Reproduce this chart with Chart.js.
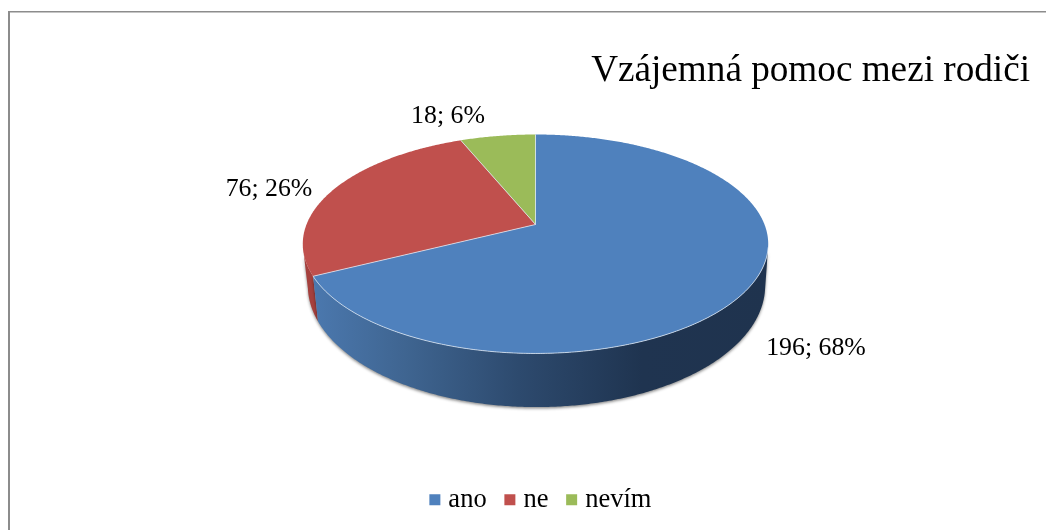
<!DOCTYPE html>
<html>
<head>
<meta charset="utf-8">
<style>html,body{margin:0;padding:0;background:#fff}canvas{display:block}</style>
<script src="https://cdn.jsdelivr.net/npm/chart.js@4/dist/chart.umd.min.js"></script>
</head>
<body>
<div style="width:1046px;height:530px"><canvas id="c" width="1046" height="530"></canvas></div>
<script>
const categories = ['ano', 'ne', 'nevím'];
const values = [196, 76, 18];
const colors = ['#4f81bd', '#c0504d', '#9bbb59'];
const chartTitle = 'Vzájemná pomoc mezi rodiči';
const FONT = '"Liberation Serif", "Times New Roman", serif';

// perspective projection of the pie's top and bottom discs
const topDisc = {cx: 535.5, cy: 224.5, rx: 229, b: 106, c: -0.178};
const botDisc = {cx: 536.5, cy: 264, rx: 225, b: 117.6, c: -0.178};
const project = (d, a) => {
  const u = Math.cos(a), v = Math.sin(a), w = 1 + d.c * v;
  return [d.cx + d.rx * u / w, d.cy + d.b * v / w];
};
const labelAnchors = [[816, 348], [269, 189], [448, 116]];

function wallFill(ctx, i) {
  if (i === 0) {
    const g = ctx.createLinearGradient(313, 0, 770, 0);
    g.addColorStop(0, '#4b78ae');
    g.addColorStop(0.2, '#3f6591');
    g.addColorStop(0.45, '#2d4a6e');
    g.addColorStop(0.72, '#1f3450');
    g.addColorStop(1, '#1f334e');
    return g;
  }
  return i === 1 ? '#a5403d' : '#7f9a45';
}

const pie3d = {
  id: 'pie3d',
  beforeDraw(chart) {
    const ctx = chart.ctx;
    ctx.save();
    ctx.fillStyle = '#fff';
    ctx.fillRect(0, 0, chart.width, chart.height);
    ctx.fillStyle = '#8c8c8c';
    ctx.fillRect(8, 11, 1038, 1.5);
    ctx.fillRect(8, 11, 2, 519);
    ctx.restore();
  },
  beforeDatasetsDraw(chart) {
    const ctx = chart.ctx;
    const arcs = chart.getDatasetMeta(0).data;
    const STEP = Math.PI / 180 / 2;
    const sample = (s, e) => {
      const out = [];
      for (let a = s; a < e; a += STEP) out.push(a);
      out.push(e);
      return out;
    };
    ctx.save();
    // side walls, back to front
    [2, 1, 0].forEach(i => {
      const arc = arcs[i];
      const angles = sample(arc.startAngle, arc.endAngle).filter(a => Math.sin(a) > 0.2);
      if (!angles.length) return;
      ctx.save();
      ctx.shadowColor = 'rgba(0,0,0,0.45)';
      ctx.shadowBlur = 3;
      ctx.shadowOffsetY = 1.5;
      ctx.beginPath();
      angles.forEach((a, k) => {
        const p = project(topDisc, a);
        k ? ctx.lineTo(p[0], p[1]) : ctx.moveTo(p[0], p[1]);
      });
      angles.slice().reverse().forEach(a => {
        const p = project(botDisc, a);
        ctx.lineTo(p[0], p[1]);
      });
      ctx.closePath();
      ctx.fillStyle = wallFill(ctx, i);
      ctx.fill();
      ctx.restore();
    });
    // top faces
    arcs.forEach((arc, i) => {
      ctx.beginPath();
      ctx.moveTo(topDisc.cx, topDisc.cy);
      sample(arc.startAngle, arc.endAngle).forEach(a => {
        const p = project(topDisc, a);
        ctx.lineTo(p[0], p[1]);
      });
      ctx.closePath();
      ctx.fillStyle = colors[i];
      ctx.fill();
    });
    // light bevel edges
    ctx.strokeStyle = 'rgba(225,235,245,0.75)';
    ctx.lineWidth = 1;
    arcs.forEach(arc => {
      const p = project(topDisc, arc.startAngle);
      ctx.beginPath();
      ctx.moveTo(topDisc.cx, topDisc.cy);
      ctx.lineTo(p[0], p[1]);
      ctx.stroke();
    });
    const front = sample(arcs[0].startAngle, arcs[0].endAngle).filter(a => Math.sin(a) > 0.2);
    ctx.beginPath();
    front.forEach((a, k) => {
      const p = project(topDisc, a);
      k ? ctx.lineTo(p[0], p[1]) : ctx.moveTo(p[0], p[1]);
    });
    ctx.stroke();
    // value; percent labels
    const total = values.reduce((s, v) => s + v, 0);
    ctx.fillStyle = '#000';
    ctx.font = '25.8px ' + FONT;
    ctx.textAlign = 'center';
    ctx.textBaseline = 'middle';
    values.forEach((v, i) => {
      ctx.fillText(v + '; ' + Math.round(v / total * 100) + '%', labelAnchors[i][0], labelAnchors[i][1]);
    });
    ctx.restore();
    return false;
  }
};

new Chart(document.getElementById('c'), {
  type: 'pie',
  data: {
    labels: categories,
    datasets: [{data: values, backgroundColor: colors, borderWidth: 0}]
  },
  plugins: [pie3d],
  options: {
    responsive: false,
    animation: false,
    layout: {padding: {left: 56, right: 16, top: 0, bottom: 7}},
    plugins: {
      tooltip: {enabled: false},
      title: {
        display: true,
        text: chartTitle,
        align: 'end',
        color: '#000',
        font: {family: FONT, size: 37.2, weight: 'normal'},
        padding: {top: 49, bottom: 10}
      },
      legend: {
        position: 'bottom',
        labels: {
          color: '#000',
          font: {family: FONT, size: 26.5},
          usePointStyle: true,
          pointStyle: 'rect',
          boxWidth: 0.5,
          boxHeight: 11,
          padding: 23
        }
      }
    }
  }
});
</script>
</body>
</html>
